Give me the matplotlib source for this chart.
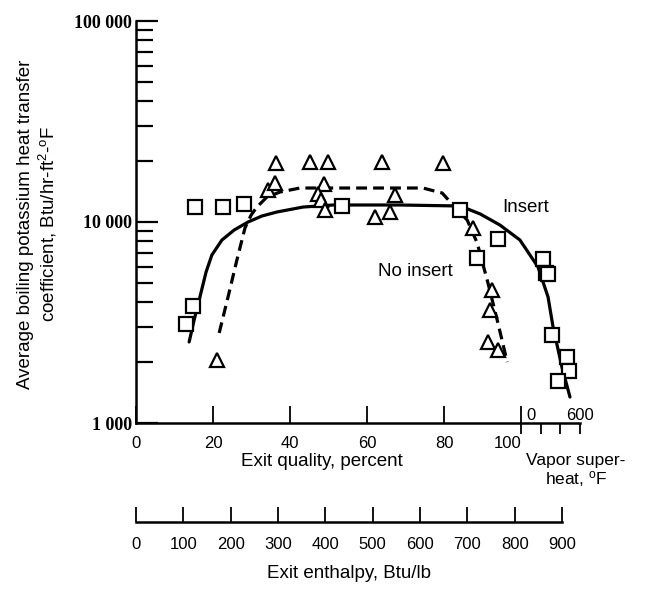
import numpy as np
import matplotlib
matplotlib.use('Agg')
import matplotlib.pyplot as plt
from matplotlib.ticker import FixedLocator, FuncFormatter, NullFormatter

# --- Data ---
# Insert: open squares, x = exit quality (percent; beyond 100 -> superheat scale)
insert_x = [13.0, 14.8, 15.3, 22.6, 28.1, 53.5, 84.2, 88.6, 94.0, 105.7, 106.6, 107.0,
            108.1, 111.9, 112.5, 109.6]
insert_y = [3110, 3820, 11880, 11880, 12290, 12020, 11470, 6620, 8230, 6550, 5600, 5500,
            2740, 2130, 1815, 1618]

# No insert: open triangles
noins_x = [21.0, 34.3, 36.1, 36.4, 45.2, 49.9, 48.8, 47.3, 48.1, 49.1, 62.1, 66.0, 67.3,
           63.9, 79.7, 87.5, 92.5, 91.9, 91.4, 94.0]
noins_y = [2057, 14430, 15630, 19660, 19890, 19890, 15450, 13780, 12870, 11470, 10590,
           11210, 13620, 19890, 19660, 9330, 4590, 3650, 2530, 2307]

# faired curves
ins_curve_x = [13.8, 15.1, 16.6, 18.2, 19.7, 22.3, 25.5, 29.1, 32.7, 36.6, 43.4, 51.2,
               68.6, 84.2, 89.4, 94.5, 99.7, 104.4, 107.0, 108.3, 110.6, 112.7]
ins_curve_y = [2530, 3255, 4236, 5640, 6850, 8130, 9125, 10000, 10710, 11215, 11870, 12150,
               12150, 12010, 10960, 9660, 8136, 5970, 4236, 3006, 1901, 1346]

noins_curve_x = [21.6, 23.9, 26.2, 28.3, 29.9, 31.4, 34.0, 37.4, 42.6, 74.5, 79.5, 82.3,
                 86.0, 88.6, 91.4, 93.8, 96.4]
noins_curve_y = [2805, 4236, 6470, 9336, 10830, 11870, 13310, 14100, 14760, 14760, 13940,
                 12150, 10230, 7865, 4973, 3253, 2011]

quality_ticks = [0, 20, 40, 60, 80, 100]
superheat_ticks = [0, 200, 400, 600]
enthalpy_ticks = [0, 100, 200, 300, 400, 500, 600, 700, 800, 900]
y_major = [1000, 10000, 100000]

# superheat scale: 0 F at 100 percent quality, 600 F at ~115.3
SH_PER_Q = 600 / 15.3
Q_MAX = 115.3

SANS = ['Liberation Sans', 'DejaVu Sans']


def q2sh(q):
    return (np.asarray(q) - 100) * SH_PER_Q


def sh2q(s):
    return np.asarray(s) / SH_PER_Q + 100


def main():
    W, H = 653, 592
    fig = plt.figure(figsize=(W / 100, H / 100), dpi=100)

    def box(l, t, r, b):
        return [l / W, 1 - b / H, (r - l) / W, (b - t) / H]

    ax = fig.add_axes(box(136, 21, 580, 423))
    ax.set_yscale('log')
    ax.set_xlim(0, Q_MAX)
    ax.set_ylim(1000, 100000)
    for s in ['top', 'right']:
        ax.spines[s].set_visible(False)
    for s in ['left', 'bottom']:
        ax.spines[s].set_linewidth(1.8)

    # curves
    ax.plot(ins_curve_x, ins_curve_y, color='black', lw=2.3, solid_capstyle='round')
    ax.plot(noins_curve_x, noins_curve_y, color='black', lw=2.3, dashes=(3.4, 1.9))

    ax.plot(insert_x, insert_y, ls='none', marker='s', ms=9.5, mfc='white', mec='black', mew=1.6)
    ax.plot(noins_x, noins_y, ls='none', marker='^', ms=10.5, mfc='white', mec='black', mew=1.6)

    # y axis
    ax.yaxis.set_major_locator(FixedLocator(y_major))
    ax.yaxis.set_major_formatter(FuncFormatter(lambda v, p: f"{int(v):,}".replace(',', ' ')))
    ax.yaxis.set_minor_formatter(NullFormatter())
    ax.tick_params(axis='y', which='major', direction='in', length=16, width=1.6, pad=3)
    ax.tick_params(axis='y', which='minor', direction='in', length=12.5, width=1.6)
    for t in ax.get_yticklabels():
        t.set_fontfamily('Liberation Serif')
        t.set_fontweight('bold')
        t.set_fontsize(13)

    # quality axis
    ax.set_xticks(quality_ticks)
    ax.tick_params(axis='x', direction='in', length=12, width=1.3, pad=9)
    for t in ax.get_xticklabels():
        t.set_fontfamily(SANS)
        t.set_fontsize(12)
    ax.get_xticklabels()[-1].set_ha('right')
    ax.set_xlabel('Exit quality, percent', family=SANS, fontsize=13.5)
    ax.xaxis.set_label_coords(0.419, -0.097)
    ax.xaxis.label.set_va('center')

    # superheat scale below the quality axis
    sec = ax.secondary_xaxis('bottom', functions=(q2sh, sh2q))
    sec.set_xticks(superheat_ticks)
    sec.xaxis.set_tick_params(direction='out', length=8, width=1.3, labelbottom=False)
    sec.spines['bottom'].set_visible(False)
    ax.text(sh2q(superheat_ticks[0]) + 2.6, 1000, '0', transform=ax.transData,
            ha='center', va='bottom', family=SANS, fontsize=12)
    ax.text(sh2q(superheat_ticks[-1]), 1000, '600', transform=ax.transData,
            ha='center', va='bottom', family=SANS, fontsize=12)
    fig.text(576 / W, 1 - 471 / H, 'Vapor super-\nheat, $\\mathregular{^{o}}$F', ha='center',
             va='center', family=SANS, fontsize=12.5, linespacing=1.05)

    fig.text(38 / W, 1 - 224 / H,
             'Average boiling potassium heat transfer\n'
             'coefficient, Btu/hr-ft$\\mathregular{^2}$-$\\mathregular{^o}$F',
             rotation=90, ha='center', va='center', family=SANS, fontsize=13.5,
             linespacing=1.2, multialignment='center')

    ax.text(95.1, 11870, 'Insert', family=SANS, fontsize=13.5, ha='left', va='center')
    ax.text(62.9, 5640, 'No insert', family=SANS, fontsize=13.5, ha='left', va='center')

    # enthalpy scale
    ax2 = fig.add_axes(box(136, 480, 562, 522))
    ax2.set_xlim(0, 900)
    ax2.set_yticks([])
    for s in ['top', 'right', 'left']:
        ax2.spines[s].set_visible(False)
    ax2.spines['bottom'].set_linewidth(1.8)
    ax2.patch.set_visible(False)
    ax2.set_xticks(enthalpy_ticks)
    ax2.tick_params(axis='x', direction='in', length=11, width=1.3, pad=11)
    for t in ax2.get_xticklabels():
        t.set_fontfamily(SANS)
        t.set_fontsize(12)
    ax2.set_xlabel('Exit enthalpy, Btu/lb', family=SANS, fontsize=13.5, labelpad=9)

    fig.savefig('out.png', dpi=100)


if __name__ == '__main__':
    main()
